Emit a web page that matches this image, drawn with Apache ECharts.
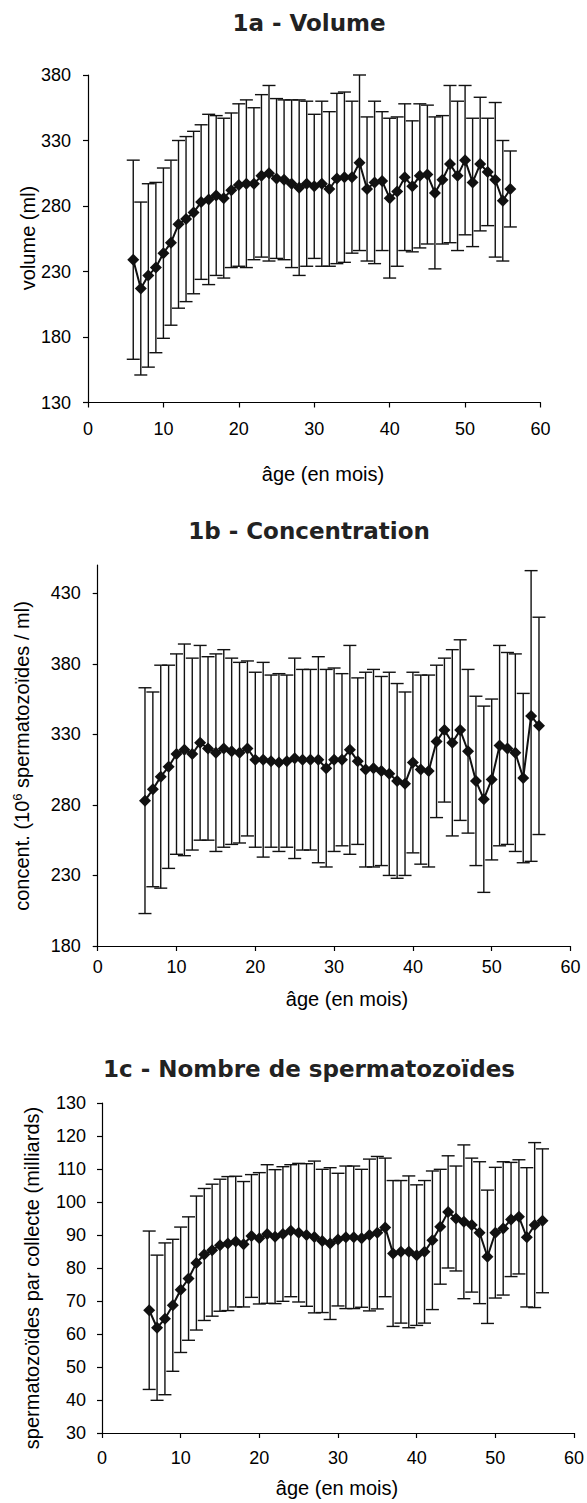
<!DOCTYPE html>
<html><head><meta charset="utf-8">
<script src="https://cdn.jsdelivr.net/npm/echarts@6/dist/echarts.min.js"></script>
<style>html,body{margin:0;padding:0;background:#fff}#c{width:587px;height:1503px}</style>
</head><body><div id="c"></div>
<script>
const ages = [6,7,8,9,10,11,12,13,14,15,16,17,18,19,20,21,22,23,24,25,26,27,28,29,30,31,32,33,34,35,36,37,38,39,40,41,42,43,44,45,46,47,48,49,50,51,52,53,54,55,56];

const volumeMean = [239,217,227,233,244,252,266,270,275,283,285,288,286,292,296,297,297,303,305,301,300,297,294,297,295,297,293,301,302,302,313,293,298,299,286,291,302,295,303,304,290,300,312,303,315,298,312,306,300,284,293];
const volumeSD = [76,66,70,65,65,63,64,63,62,59,65,61,61,59,62,64,58,62,67,61,61,64,67,63,55,63,59,65,65,58,67,55,62,53,61,57,56,50,55,53,58,49,60,57,57,49,51,41,59,46,29];

const concMean = [283,291,300,307,316,319,316,324,320,317,320,318,317,320,312,312,311,310,311,313,312,312,312,306,312,312,319,311,305,306,304,302,297,295,310,305,304,325,333,324,333,318,297,284,298,322,320,317,299,343,336];
const concSD = [80,69,79,72,71,75,68,69,65,70,70,66,64,62,62,69,61,63,61,71,64,64,73,70,65,61,74,59,69,70,67,72,69,65,64,67,68,54,51,66,64,58,60,66,57,71,68,70,60,103,77];

const countMean = [67.2,61.9,64.6,68.7,73.4,76.8,81.5,84.1,85.4,86.9,87.4,88,87.2,89.7,89,90.3,89.5,90.3,91.3,90.7,90,89.4,88.2,87.4,88.6,89.3,89.3,89,90,90.7,92.3,84.4,84.9,84.9,83.9,84.9,88.4,92.5,97,95,94,93,90.7,83.4,90.7,92,94.7,95.5,89.3,93,94.3];
const countSD = [24,22,23,20,19,18.7,20.3,20,20,20,20.3,19.8,19,18.6,19.9,21,20.3,20.4,20,21,21.6,23,21.7,23,20.1,21.6,21.6,20.9,23,23.1,21,22.1,21.6,23,21.3,21.6,21,17.4,17,15.9,23.3,20.3,21.5,20.2,19.8,20.2,17.3,17.3,21.1,25,21.8];

const xTicks = [0,10,20,30,40,50,60];
const yTicksA = [130,180,230,280,330,380];
const yTicksB = [180,230,280,330,380,430];
const yTicksC = [30,40,50,60,70,80,90,100,110,120,130];

const titles = ['1a - Volume','1b - Concentration','1c - Nombre de spermatozoïdes'];
const xName = 'âge (en mois)';

const INK = '#111';
const labelFont = {color:'#000', fontSize:18, fontFamily:'Liberation Sans, Arial, sans-serif'};

function errData(mean, sd){ return ages.map((a,i)=>[a, mean[i]-sd[i], mean[i]+sd[i]]); }
function lineData(mean){ return ages.map((a,i)=>[a, mean[i]]); }

function renderErr(params, api){
  const x = api.value(0), lo = api.value(1), hi = api.value(2);
  const t = api.coord([x, hi]), b = api.coord([x, lo]);
  const hw = 6.5;
  const st = {stroke: INK, lineWidth: 1.4};
  return {type:'group', children:[
    {type:'line', shape:{x1:t[0], y1:t[1], x2:b[0], y2:b[1]}, style:st},
    {type:'line', shape:{x1:t[0]-hw, y1:t[1], x2:t[0]+hw, y2:t[1]}, style:st},
    {type:'line', shape:{x1:b[0]-hw, y1:b[1], x2:b[0]+hw, y2:b[1]}, style:st}
  ]};
}

function xAx(idx, margin){
  return {type:'value', gridIndex:idx, min:0, max:60, interval:10,
    axisLine:{show:true, onZero:false, lineStyle:{color:'#000', width:1.2}},
    axisTick:{show:true, inside:false, length:5, customValues:xTicks, lineStyle:{color:'#000', width:1.2}},
    axisLabel:Object.assign({margin:margin, customValues:xTicks}, labelFont),
    splitLine:{show:false}};
}
function yAx(idx, min, max, ticks, margin){
  return {type:'value', gridIndex:idx, min:min, max:max,
    axisLine:{show:true, onZero:false, lineStyle:{color:'#000', width:1.2}},
    axisTick:{show:true, inside:false, length:5, customValues:ticks, lineStyle:{color:'#000', width:1.2}},
    axisLabel:Object.assign({margin:margin, customValues:ticks}, labelFont),
    splitLine:{show:false}};
}
function errSeries(idx, mean, sd){
  return {type:'custom', xAxisIndex:idx, yAxisIndex:idx, renderItem:renderErr, data:errData(mean, sd), z:2, clip:false, silent:true};
}
function lineSeries(idx, mean){
  return {type:'line', xAxisIndex:idx, yAxisIndex:idx, data:lineData(mean), symbol:'diamond', symbolSize:12,
    lineStyle:{color:INK, width:2}, itemStyle:{color:INK}, z:3, silent:true};
}

const titleStyle = {fill:'#222', fontSize:23, fontWeight:'bold', fontFamily:'DejaVu Sans, sans-serif', align:'center', verticalAlign:'middle'};
const nameStyle = {fill:'#000', fontSize:20, fontFamily:'Liberation Sans, Arial, sans-serif', align:'center', verticalAlign:'middle'};

const option = {
  animation:false,
  backgroundColor:'#fff',
  grid:[
    {left:88, top:75, width:452.5, height:327.5},
    {left:97.7, top:565, width:472.8, height:381},
    {left:102, top:1103, width:475, height:330}
  ],
  xAxis:[xAx(0,17), xAx(1,12), xAx(2,16)],
  yAxis:[yAx(0,130,380,yTicksA,17), yAx(1,180,450,yTicksB,17), yAx(2,30,130,yTicksC,16)],
  series:[
    errSeries(0, volumeMean, volumeSD), lineSeries(0, volumeMean),
    errSeries(1, concMean, concSD), lineSeries(1, concMean),
    errSeries(2, countMean, countSD), lineSeries(2, countMean)
  ],
  graphic:[
    {type:'text', x:309, y:23, style:Object.assign({text:titles[0]}, titleStyle)},
    {type:'text', x:309, y:531, style:Object.assign({text:titles[1]}, titleStyle)},
    {type:'text', x:309, y:1069, style:Object.assign({text:titles[2]}, titleStyle)},
    {type:'text', x:323, y:474, style:Object.assign({text:xName}, nameStyle)},
    {type:'text', x:347, y:999, style:Object.assign({text:xName}, nameStyle)},
    {type:'text', x:337, y:1488, style:Object.assign({text:xName}, nameStyle)},
    {type:'text', x:28, y:238, rotation:Math.PI/2, style:Object.assign({text:'volume (ml)'}, nameStyle)},
    {type:'text', x:22, y:756, rotation:Math.PI/2, style:Object.assign({}, nameStyle, {
      text:'{n|concent. (10}{s|6}{n| spermatozoïdes / ml)}',
      rich:{n:{fontSize:20, fill:'#000', fontFamily:'Liberation Sans, Arial, sans-serif', lineHeight:22},
            s:{fontSize:13, fill:'#000', fontFamily:'Liberation Sans, Arial, sans-serif', verticalAlign:'top', lineHeight:22, padding:[0,0,8,0]}}
    })},
    {type:'text', x:32, y:1278, rotation:Math.PI/2, style:Object.assign({text:'spermatozoïdes par collecte (milliards)'}, nameStyle)}
  ]
};

const chart = echarts.init(document.getElementById('c'), null, {renderer:'svg', width:587, height:1503});
chart.setOption(option);
</script></body></html>
